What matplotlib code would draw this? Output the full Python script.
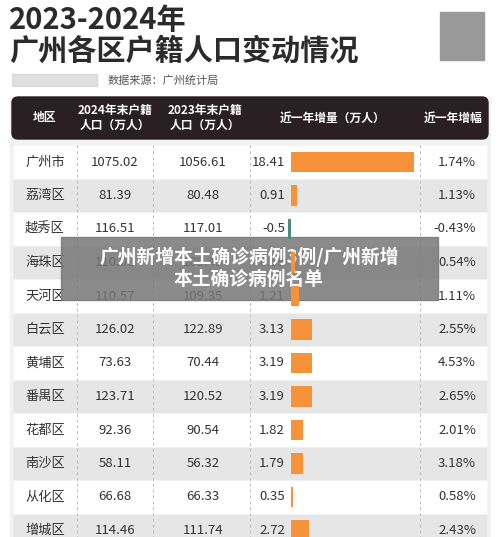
import matplotlib
matplotlib.use("Agg")
import matplotlib.pyplot as plt
from matplotlib.patches import FancyBboxPatch, Rectangle

plt.rcParams['font.family'] = ['Noto Sans CJK SC', 'DejaVu Sans']

districts = ["广州市", "荔湾区", "越秀区", "海珠区", "天河区", "白云区", "黄埔区", "番禺区", "花都区", "南沙区", "从化区", "增城区"]
pop2024 = ["1075.02", "81.39", "116.51", "110.08", "110.57", "126.02", "73.63", "123.71", "92.36", "58.11", "66.68", "114.46"]
pop2023 = ["1056.61", "80.48", "117.01", "109.49", "109.35", "122.89", "70.44", "120.52", "90.54", "56.32", "66.33", "111.74"]
increase = [18.41, 0.91, -0.5, 0.59, 1.21, 3.13, 3.19, 3.19, 1.82, 1.79, 0.35, 2.72]
growth = ["1.74%", "1.13%", "-0.43%", "0.54%", "1.11%", "2.55%", "4.53%", "2.65%", "2.01%", "3.18%", "0.58%", "2.43%"]
headers = ["地区", "2024年末户籍\n人口（万人）", "2023年末户籍\n人口（万人）", "近一年增量（万人）", "近一年增幅"]

W, H = 500, 537
fig = plt.figure(figsize=(5, 5.37), dpi=100)
ax = fig.add_axes([0, 0, 1, 1])
ax.set_xlim(0, W); ax.set_ylim(H, 0); ax.axis('off')

ax.text(9, 20, "2023-2024年", fontsize=21, fontweight='bold', color='#2b2b2b', va='center')
ax.text(9, 51, "广州各区户籍人口变动情况", fontsize=21, fontweight='bold', color='#2b2b2b', va='center')
ax.text(108, 80, "数据来源：广州统计局", fontsize=8, color='#555555', va='center')
ax.add_patch(Rectangle((12, 74), 85, 12, color='#cccccc', alpha=0.6))
ax.add_patch(Rectangle((440, 12), 44, 48, color='#999999'))

ax.add_patch(Rectangle((10, 97), 480, 440, color='#f2f2f2', zorder=0))
ax.add_patch(FancyBboxPatch((12, 97), 476, 42, boxstyle="round,pad=0,rounding_size=6", color='#2a1f22', zorder=1))
hx = [45, 115, 205, 333, 453]
for x, h in zip(hx, headers):
    ax.text(x, 118, h, fontsize=8.5, color='white', ha='center', va='center', fontweight='bold', linespacing=1.2, zorder=2)

y0, pitch = 162, 33.5
for i, d in enumerate(districts):
    y = y0 + i * pitch
    c = '#ffffff' if i % 2 == 0 else '#e6e6e6'
    ax.add_patch(Rectangle((14, y - pitch / 2 + 1), 472, pitch - 2, color=c, zorder=1))
    kw = dict(fontsize=9.5, color='#333', va='center', zorder=2)
    ax.text(45, y, d, ha='center', **kw)
    ax.text(115, y, pop2024[i], ha='center', **kw)
    ax.text(203, y, pop2023[i], ha='center', **kw)
    ax.text(285, y, f"{increase[i]:g}", ha='right', **kw)
    ax.text(476, y, growth[i], ha='right', **kw)
for x in [77, 153, 250, 420]:
    ax.plot([x, x], [145, H], ls=(0, (3, 3)), color='#bbbbbb', lw=0.7, zorder=2)

# bar column
bx0, bx1 = 288, 420
top, bot = y0 - pitch / 2, H
bax = fig.add_axes([bx0 / W, 1 - bot / H, (bx1 - bx0) / W, (bot - top) / H])
bax.patch.set_alpha(0)
bax.axis('off')
scale = 6.7
bax.set_xlim(-3 / scale, (bx1 - bx0 - 3) / scale)
bax.set_ylim((bot - top) / pitch - 0.5, -0.5)
cols = ['#f5923a' if v >= 0 else '#4d8c7c' for v in increase]
bax.barh(range(len(increase)), increase, height=0.62, color=cols)

# overlay caption
ax.add_patch(Rectangle((61, 237), 377, 63, color='#777777', alpha=0.85, zorder=5))
ax.text(249, 268, "广州新增本土确诊病例3例/广州新增\n本土确诊病例名单", fontsize=13.5, fontweight='bold',
        color='white', ha='center', va='center', linespacing=1.2, zorder=6)

fig.savefig("out.png", dpi=100)
